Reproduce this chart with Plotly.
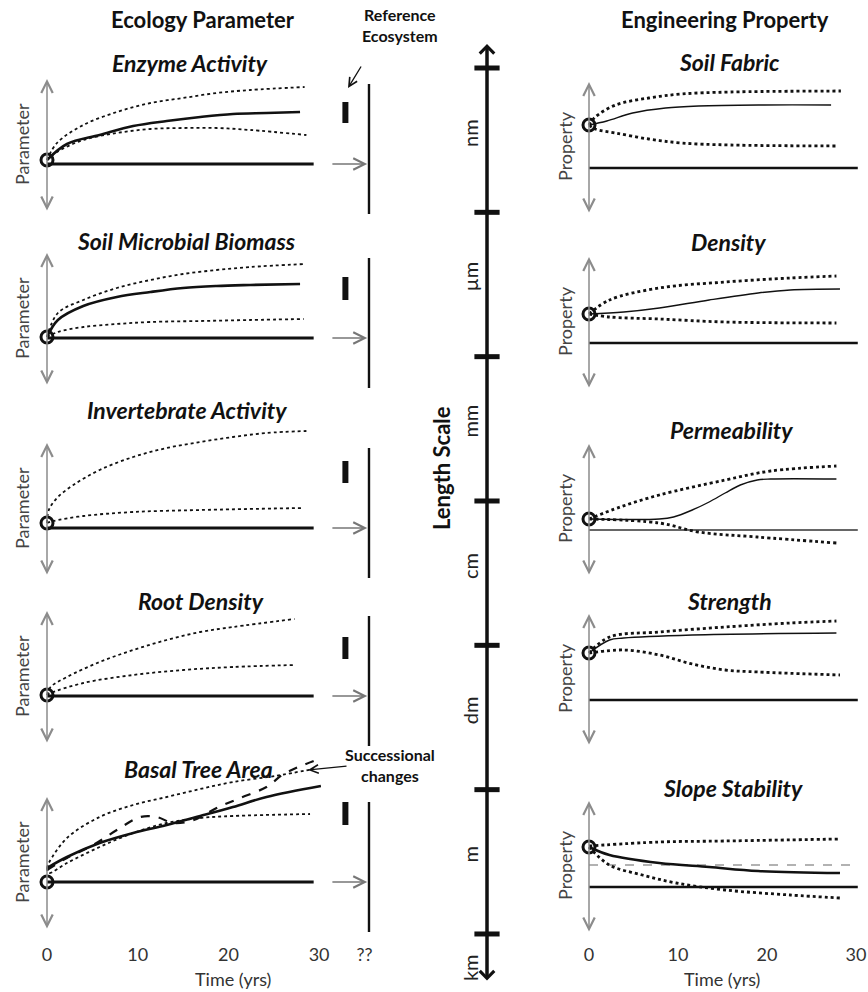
import plotly.graph_objects as go

W, H = 868, 992

# ---------------- data (schematic values) ----------------
left_titles = ["Enzyme Activity", "Soil Microbial Biomass", "Invertebrate Activity",
               "Root Density", "Basal Tree Area"]
right_titles = ["Soil Fabric", "Density", "Permeability", "Strength", "Slope Stability"]
scale_labels = ["nm", "µm", "mm", "cm", "dm", "m", "km"]
scale_ticks = [0, 1, 2, 3, 4, 5, 6]
time_ticks = [0, 10, 20, 30, 35]
time_tick_text = ["0", "10", "20", "30", "??"]
right_time_ticks = [0, 10, 20, 30]

# --- Ecology parameters ---
enz_mid_t = [0, 2.2, 5.8, 9.5, 13.2, 16.9, 20.5, 24.2, 27.9]
enz_mid = [4, 20, 29, 38, 43, 47, 50, 51, 52]
enz_up_t = [0, 1.1, 4.0, 7.7, 11.4, 15.0, 18.7, 22.4, 28.4]
enz_up = [4, 21, 39, 52, 61, 66, 71, 74, 77]
enz_lo_t = [0, 1.1, 4.0, 7.7, 11.4, 15.0, 18.7, 22.4, 28.6]
enz_lo = [4, 12, 24, 31, 35, 36, 36, 34, 29]

mic_mid_t = [0, 1.2, 4.0, 7.7, 11.4, 15.0, 18.7, 22.4, 27.9]
mic_mid = [1, 18, 32, 41, 46, 50, 52, 53, 54]
mic_up_t = [0, 1.2, 4.0, 7.7, 11.4, 15.0, 18.7, 22.4, 28.4]
mic_up = [1, 25, 38, 50, 58, 64, 68, 71, 74]
mic_lo_t = [0, 1.2, 4.0, 7.7, 11.4, 16.9, 22.4, 28.3]
mic_lo = [1, 6, 11, 14, 16, 17, 18, 19]

inv_up_t = [0, 0.2, 1.1, 2.9, 5.8, 9.5, 13.2, 16.9, 20.5, 24.2, 28.6]
inv_up = [5, 18, 30, 43, 58, 71, 80, 86, 91, 95, 97]
inv_lo_t = [0, 0.7, 4.0, 9.5, 16.9, 28.3]
inv_lo = [5, 7, 12, 16, 18, 20]

root_up_t = [0, 0.4, 2.2, 5.8, 9.5, 13.2, 16.9, 20.5, 27.3]
root_up = [1, 9, 19, 34, 46, 56, 64, 69, 77]
root_lo_t = [0, 0.4, 4.0, 9.5, 15.0, 20.5, 27.3]
root_lo = [1, 3, 13, 21, 26, 29, 31]

bas_mid_t = [0, 2.2, 5.8, 9.5, 13.2, 16.9, 20.5, 24.2, 30.2]
bas_mid = [14, 25, 39, 49, 57, 66, 75, 85, 96]
bas_up_t = [0, 0.2, 2.2, 5.8, 9.5, 13.2, 16.9, 20.5, 25.1, 29.4]
bas_up = [14, 19, 44, 65, 77, 85, 93, 100, 106, 113]
bas_lo_t = [0, 0.2, 2.2, 5.8, 9.5, 13.2, 16.9, 20.5, 29.0]
bas_lo = [14, 9, 19, 35, 49, 59, 64, 66, 68]
bas_succ_t = [0, 2.2, 5.1, 7.7, 10.3, 12.1, 13.9, 16.2, 18.7, 21.3, 24.2, 26.1, 29.4]
bas_succ = [12, 24, 37, 52, 65, 65, 59, 62, 74, 84, 95, 108, 121]

left_start = [4, 1, 5, 1, 0]
ref_low = [41, 38, 45, 37, 57]
ref_high = [62, 61, 67, 59, 80]

# --- Engineering properties ---
fab_mid_t = [0, 2.0, 4.9, 8.6, 12.3, 19.7, 27.2]
fab_mid = [43, 47, 55, 60, 62, 63, 63]
fab_up_t = [0, 0.7, 3.0, 6.7, 10.4, 15.9, 28.3]
fab_up = [43, 51, 63, 70, 74, 76, 77]
fab_lo_t = [0, 0.7, 3.0, 6.7, 10.4, 15.9, 28.0]
fab_lo = [43, 39, 35, 29, 25, 23, 22]

den_mid_t = [0, 3.9, 7.9, 13.5, 19.0, 22.6, 28.2]
den_mid = [29, 31, 35, 43, 50, 53, 54]
den_up_t = [0, 2.3, 7.9, 15.3, 22.6, 27.8]
den_up = [29, 43, 55, 61, 65, 67]
den_lo_t = [0, 2.3, 7.9, 15.3, 27.8]
den_lo = [29, 26, 24, 21, 20]

per_mid_t = [0, 7.9, 9.5, 11.6, 13.5, 15.3, 17.0, 18.9, 20.4, 27.8]
per_mid = [11, 11, 13, 20, 28, 37, 45, 50, 51, 51]
per_up_t = [0, 3.5, 7.9, 15.3, 20.4, 27.8]
per_up = [11, 23, 35, 50, 59, 64]
per_lo_t = [0, 7.9, 12.3, 18.9, 27.8]
per_lo = [11, 7, -2, -7, -13]

str_mid_t = [0, 2.3, 3.9, 11.6, 27.8]
str_mid = [47, 60, 62, 65, 67]
str_up_t = [0, 2.3, 7.9, 15.3, 22.6, 27.8]
str_up = [47, 63, 68, 73, 77, 79]
str_lo_t = [0, 3.9, 7.9, 11.6, 15.3, 19.0, 28.2]
str_lo = [47, 50, 45, 36, 30, 28, 25]

slo_mid_t = [0, 2.3, 7.9, 13.5, 19.0, 28.2]
slo_mid = [40, 32, 24, 20, 16, 14]
slo_up_t = [0, 7.9, 15.3, 28.2]
slo_up = [41, 45, 46, 48]
slo_lo_t = [0, 2.3, 6.0, 9.8, 15.3, 22.6, 28.2]
slo_lo = [40, 22, 12, 4, -3, -8, -11]
slo_thresh = 22

right_start = [43, 29, 11, 47, 40]

# ---------------- layout geometry (pixels) ----------------
left_base_px = [164, 338, 528, 696, 882]
right_base_px = [168, 343, 530, 700, 887]
left_title_px = [(190, 63), (186, 241), (187, 410), (201, 601), (198, 769)]
right_title_px = [(729, 62), (728, 242), (731, 430), (729, 601), (733, 788)]
L0, LPY = 47, 9.07     # left: pixel of t=0 and px per year
R0, RPY = 589, 8.9     # right
LLO, LHI = -60, 125
RLO, RHI = -55, 100

FONT = "Lato"
BLACK = "#111111"
GREY = "#8c8c8c"

fig = go.Figure()


def ydom(base, lo, hi):
    return [1 - (base - lo) / H, 1 - (base - hi) / H]


def px_x(p):
    return p / W


def px_y(p):
    return 1 - p / H


def text_ann(x, y, text, size, color=BLACK, angle=0, yref="paper"):
    return dict(x=x, y=y, xref="paper", yref=yref, showarrow=False, text=text, textangle=angle,
                xanchor="center", yanchor="middle", font=dict(family=FONT, size=size, color=color))


def add_line(n, t, v, width, dash="solid", color=BLACK, shape="spline"):
    fig.add_trace(go.Scatter(x=t, y=v, mode="lines", xaxis=f"x{n}", yaxis=f"y{n}",
                             line=dict(color=color, width=width, dash=dash, shape=shape),
                             hoverinfo="skip", showlegend=False))


def add_circle(n, v):
    fig.add_trace(go.Scatter(x=[0], y=[v], mode="markers", xaxis=f"x{n}", yaxis=f"y{n}",
                             marker=dict(symbol="circle-open", size=12, color=BLACK,
                                         line=dict(width=3, color=BLACK)),
                             hoverinfo="skip", showlegend=False))


annotations = []
layout_axes = {}

left_series = [
    [(enz_up_t, enz_up, 1.8, "dot"), (enz_lo_t, enz_lo, 1.8, "dot"), (enz_mid_t, enz_mid, 2.6, "solid")],
    [(mic_up_t, mic_up, 1.8, "dot"), (mic_lo_t, mic_lo, 1.8, "dot"), (mic_mid_t, mic_mid, 2.6, "solid")],
    [(inv_up_t, inv_up, 1.8, "dot"), (inv_lo_t, inv_lo, 1.8, "dot")],
    [(root_up_t, root_up, 1.8, "dot"), (root_lo_t, root_lo, 1.8, "dot")],
    [(bas_up_t, bas_up, 1.8, "dot"), (bas_lo_t, bas_lo, 1.8, "dot"), (bas_mid_t, bas_mid, 2.6, "solid"),
     (bas_succ_t, bas_succ, 2.2, "dash")],
]

for i in range(5):
    n = i + 1
    base = left_base_px[i]
    xa = dict(domain=[0, 400 / W], range=[(0 - L0) / LPY, (400 - L0) / LPY], visible=False,
              anchor=f"y{n}")
    if i == 4:
        xa.update(visible=True, showgrid=False, zeroline=False, showline=False, ticks="",
                  tickvals=time_ticks, ticktext=time_tick_text, ticklabeloverflow="allow",
                  tickfont=dict(family=FONT, size=18, color="#333"))
    layout_axes[f"xaxis{n}"] = xa
    layout_axes[f"yaxis{n}"] = dict(domain=ydom(base, LLO, LHI), range=[LLO, LHI], visible=False,
                                    anchor=f"x{n}")
    add_line(n, [0, 29.4], [0, 0], 2.8, shape="linear")
    for t, v, w, d in left_series[i]:
        add_line(n, t, v, w, d)
    add_line(n, [32.9, 32.9], [ref_low[i], ref_high[i]], 6, shape="linear")
    add_line(n, [35.5, 35.5], [-50, 80], 2.4, shape="linear")
    add_circle(n, left_start[i])
    annotations.append(dict(x=0, y=85, ax=0, ay=-48, xref=f"x{n}", yref=f"y{n}", axref=f"x{n}",
                            ayref=f"y{n}", text="", showarrow=True, arrowside="end+start",
                            arrowhead=5, startarrowhead=5, arrowsize=1.5, startarrowsize=1.5,
                            arrowwidth=1.5, arrowcolor=GREY))
    annotations.append(dict(x=35.3, y=0, ax=31.3, ay=0, xref=f"x{n}", yref=f"y{n}", axref=f"x{n}",
                            ayref=f"y{n}", text="", showarrow=True, arrowhead=5, arrowsize=1.5,
                            arrowwidth=1.5, arrowcolor="#777"))
    tx, ty = left_title_px[i]
    annotations.append(text_ann(px_x(tx), px_y(ty), f"<b><i>{left_titles[i]}</i></b>", 23))
    annotations.append(text_ann(px_x(22), px_y(base - 20), "Parameter", 18, "#444", -90))

right_series = [
    [(fab_up_t, fab_up, 2.8, "dot"), (fab_lo_t, fab_lo, 2.8, "dot"), (fab_mid_t, fab_mid, 1.4, "solid")],
    [(den_up_t, den_up, 2.8, "dot"), (den_lo_t, den_lo, 2.8, "dot"), (den_mid_t, den_mid, 1.4, "solid")],
    [(per_up_t, per_up, 2.8, "dot"), (per_lo_t, per_lo, 2.8, "dot"), (per_mid_t, per_mid, 1.4, "solid")],
    [(str_up_t, str_up, 2.8, "dot"), (str_lo_t, str_lo, 2.8, "dot"), (str_mid_t, str_mid, 1.4, "solid")],
    [(slo_up_t, slo_up, 2.8, "dot"), (slo_lo_t, slo_lo, 2.8, "dot"), (slo_mid_t, slo_mid, 2.6, "solid")],
]

for i in range(5):
    n = i + 6
    base = right_base_px[i]
    xa = dict(domain=[555 / W, 1], range=[(555 - R0) / RPY, (W - R0) / RPY], visible=False,
              anchor=f"y{n}")
    if i == 4:
        xa.update(visible=True, showgrid=False, zeroline=False, showline=False, ticks="",
                  tickvals=right_time_ticks, ticklabeloverflow="allow",
                  tickfont=dict(family=FONT, size=18, color="#333"))
    layout_axes[f"xaxis{n}"] = xa
    layout_axes[f"yaxis{n}"] = dict(domain=ydom(base, RLO, RHI), range=[RLO, RHI], visible=False,
                                    anchor=f"x{n}")
    if i == 4:
        add_line(n, [0, 30.2], [slo_thresh, slo_thresh], 1.6, dash="dash", color="#999", shape="linear")
    if i == 2:
        add_line(n, [0, 30.2], [0, 0], 1.5, color="#333", shape="linear")
    else:
        add_line(n, [0, 30.2], [0, 0], 2.6, shape="linear")
    for t, v, w, d in right_series[i]:
        add_line(n, t, v, w, d)
    add_circle(n, right_start[i])
    annotations.append(dict(x=0, y=86, ax=0, ay=-46, xref=f"x{n}", yref=f"y{n}", axref=f"x{n}",
                            ayref=f"y{n}", text="", showarrow=True, arrowside="end+start",
                            arrowhead=5, startarrowhead=5, arrowsize=1.5, startarrowsize=1.5,
                            arrowwidth=1.5, arrowcolor=GREY))
    tx, ty = right_title_px[i]
    annotations.append(text_ann(px_x(tx), px_y(ty), f"<b><i>{right_titles[i]}</i></b>", 23))
    annotations.append(text_ann(px_x(565), px_y(base - 22), "Property", 18, "#444", -90))

# ---------------- central length-scale axis ----------------
TOP_TICK, TICK_SP = 68, 144.33
layout_axes["xaxis11"] = dict(domain=[470 / W, 504 / W], range=[-1, 1], visible=False, anchor="y11")
layout_axes["yaxis11"] = dict(domain=[0, 1], range=[(H - TOP_TICK) / TICK_SP, -TOP_TICK / TICK_SP],
                              visible=False, anchor="x11")
fig.add_trace(go.Scatter(x=[0] * len(scale_ticks), y=scale_ticks, mode="markers", xaxis="x11", yaxis="y11",
                         marker=dict(symbol="line-ew", size=18, color=BLACK, line=dict(width=5, color=BLACK)),
                         hoverinfo="skip", showlegend=False))
annotations.append(dict(x=0, y=(44 - TOP_TICK) / TICK_SP, ax=0, ay=(982 - TOP_TICK) / TICK_SP,
                        xref="x11", yref="y11", axref="x11", ayref="y11", text="", showarrow=True,
                        arrowside="end+start", arrowhead=4, startarrowhead=4, arrowsize=0.8,
                        startarrowsize=0.8, arrowwidth=3.5, arrowcolor=BLACK))
label_pos = [k + 0.45 for k in scale_ticks[:-1]] + [scale_ticks[-1] + 0.236]
for lab, yv in zip(scale_labels, label_pos):
    annotations.append(text_ann(px_x(470), yv, lab, 20, "#222", -90, yref="y11"))
annotations.append(text_ann(px_x(441), px_y(468), "<b>Length Scale</b>", 22, BLACK, -90))

# ---------------- headers and notes ----------------
annotations += [
    text_ann(px_x(203), px_y(20), "<b>Ecology Parameter</b>", 22),
    text_ann(px_x(725), px_y(20), "<b>Engineering Property</b>", 22),
    text_ann(px_x(400), px_y(25), "<b>Reference<br>Ecosystem</b>", 16),
    dict(x=px_x(348), y=px_y(88), ax=14, ay=-23, xref="paper", yref="paper", text="",
         showarrow=True, arrowhead=5, arrowsize=1.3, arrowwidth=1.3, arrowcolor=BLACK),
    text_ann(px_x(390), px_y(765), "<b>Successional<br>changes</b>", 16),
    dict(x=px_x(308), y=px_y(770), ax=40, ay=-4, xref="paper", yref="paper", text="",
         showarrow=True, arrowhead=5, arrowsize=1.3, arrowwidth=1.3, arrowcolor=BLACK),
    text_ann(px_x(233), px_y(979), "Time (yrs)", 18, "#333"),
    text_ann(px_x(722), px_y(979), "Time (yrs)", 18, "#333"),
]

fig.update_layout(width=W, height=H, margin=dict(l=0, r=0, t=0, b=0, pad=0),
                  paper_bgcolor="white", plot_bgcolor="rgba(0,0,0,0)",
                  showlegend=False, annotations=annotations, **layout_axes)

fig.write_html("out.html", config={"displayModeBar": False},
               post_script="document.body.style.margin='0px';")
